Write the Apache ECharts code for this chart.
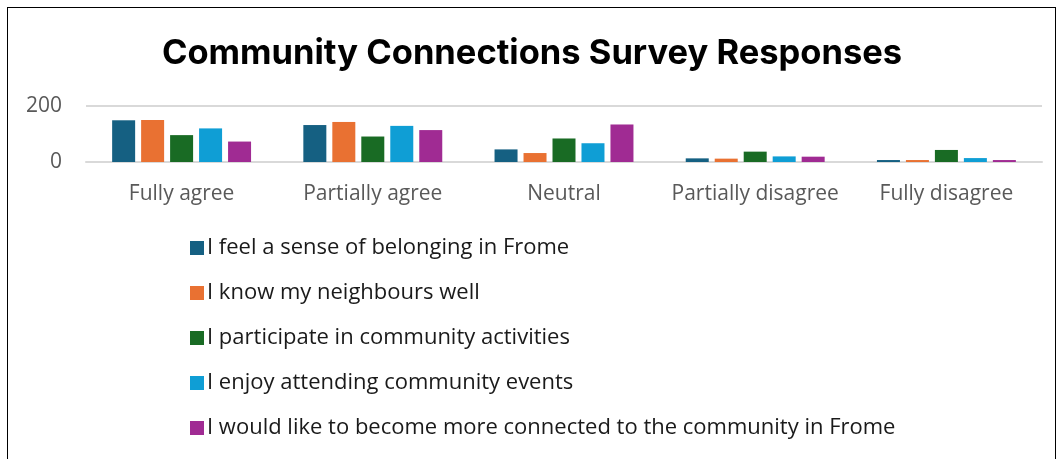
<!DOCTYPE html>
<html>
<head>
<meta charset="utf-8">
<script src="https://cdn.jsdelivr.net/npm/echarts@6/dist/echarts.min.js"></script>
<style>
  html, body { margin: 0; padding: 0; background: #fff; }
  #chart { width: 1064px; height: 459px; }
  #frame { position: absolute; left: 7px; top: 7px; width: 1049px; height: 470px; border: 1.5px solid #000; box-sizing: border-box; pointer-events: none; }
</style>
</head>
<body>
<div id="chart"></div>
<div id="frame"></div>
<script>
const categories = ['Fully agree', 'Partially agree', 'Neutral', 'Partially disagree', 'Fully disagree'];
const seriesNames = [
  'I feel a sense of belonging in Frome',
  'I know my neighbours well',
  'I participate in community activities',
  'I enjoy attending community events',
  'I would like to become more connected to the community in Frome'
];
const belonging = [149, 132, 45, 13, 7];
const neighbours = [150, 143, 32, 12, 7];
const participate = [96, 91, 84, 37, 43];
const events = [120, 129, 67, 20, 14];
const connected = [73, 114, 134, 19, 7];
const colors = ['#156082', '#E97132', '#196B24', '#0F9ED5', '#A02B93'];

const chart = echarts.init(document.getElementById('chart'));
const values = [belonging, neighbours, participate, events, connected];

const option = {
  animation: false,
  title: {
    text: 'Community Connections Survey Responses',
    left: 'center',
    top: 31,
    textStyle: { fontFamily: 'Inter', fontSize: 34.5, fontWeight: 'bold', color: '#000' }
  },
  legend: {
    orient: 'vertical',
    left: 185,
    top: 232,
    itemWidth: 14,
    itemHeight: 14,
    itemGap: 23,
    icon: 'rect',
    textStyle: { fontFamily: 'Open Sans', fontSize: 22, lineHeight: 22, color: '#1a1a1a', padding: [0, 0, 0, -2] },
    data: seriesNames
  },
  grid: { left: 86, right: 22, top: 106, height: 56, containLabel: false },
  xAxis: {
    type: 'category',
    data: categories,
    axisLine: { lineStyle: { color: '#d9d9d9', width: 2 } },
    axisTick: { show: false },
    axisLabel: { interval: 0, fontFamily: 'Open Sans', fontSize: 21, color: '#595959', margin: 22 }
  },
  yAxis: {
    type: 'value',
    min: 0,
    max: 200,
    interval: 200,
    axisLine: { show: false },
    axisTick: { show: false },
    splitLine: { lineStyle: { color: '#d9d9d9', width: 2 } },
    axisLabel: { fontFamily: 'Open Sans', fontSize: 21, color: '#595959', margin: 24 }
  },
  series: seriesNames.map((name, i) => ({
    name: name,
    type: 'bar',
    data: values[i],
    barWidth: 23,
    barGap: '26%',
    itemStyle: { color: colors[i] }
  }))
};

chart.setOption(option);
</script>
</body>
</html>
